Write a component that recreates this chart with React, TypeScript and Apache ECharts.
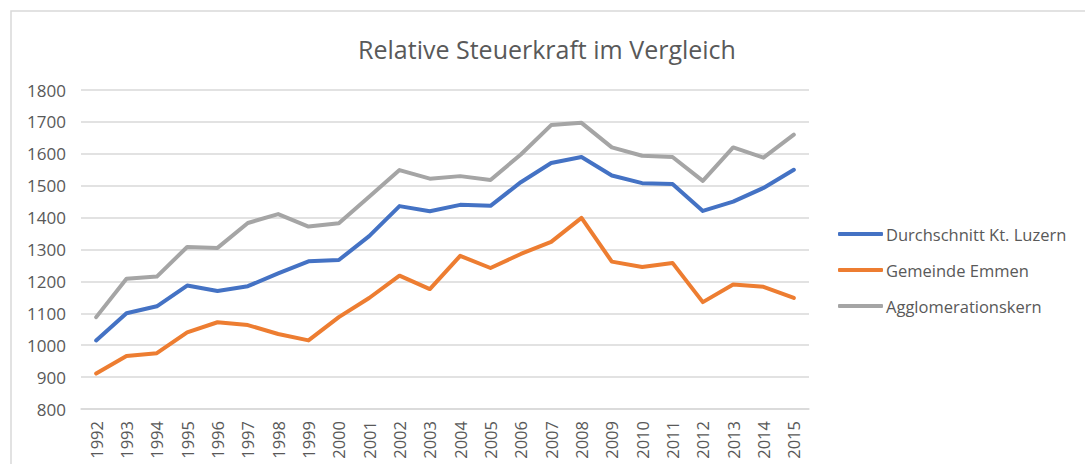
import React, { useEffect, useRef } from "react";
import * as echarts from "echarts";

const years = [
  "1992","1993","1994","1995","1996","1997","1998","1999","2000","2001","2002","2003",
  "2004","2005","2006","2007","2008","2009","2010","2011","2012","2013","2014","2015",
];
const durchschnitt = [1015,1100,1122,1187,1170,1185,1225,1263,1267,1342,1436,1420,1440,1437,1511,1571,1590,1532,1508,1505,1421,1450,1493,1550];
const emmen = [911,966,975,1040,1072,1063,1035,1015,1088,1148,1218,1176,1280,1242,1286,1324,1399,1262,1245,1258,1135,1190,1183,1148];
const agglo = [1088,1208,1215,1308,1305,1383,1411,1372,1382,1465,1549,1522,1530,1518,1598,1690,1697,1620,1594,1590,1515,1620,1588,1660];

const seriesNames = ["Durchschnitt Kt. Luzern", "Gemeinde Emmen", "Agglomerationskern"];
const colors = ["#4472C4", "#ED7D31", "#A5A5A5"];

export default function App() {
  const ref = useRef<HTMLDivElement>(null);
  useEffect(() => {
    if (!ref.current) return;
    const chart = echarts.init(ref.current, null, { renderer: "svg" });
    const font = "'Open Sans', sans-serif";
    const dataSets = [durchschnitt, emmen, agglo];
    chart.setOption({
      animation: false,
      backgroundColor: "#ffffff",
      title: {
        text: "Relative Steuerkraft im Vergleich",
        left: 542,
        textAlign: "center",
        top: 31,
        textStyle: { fontFamily: font, fontSize: 25, fontWeight: "normal", color: "#595959" },
      },
      graphic: [
        {
          type: "rect",
          shape: { x: 11, y: 11, width: 1100, height: 500 },
          style: { fill: "none", stroke: "#d9d9d9", lineWidth: 1.5 },
          silent: true,
        },
      ],
      legend: {
        orient: "vertical",
        left: 838,
        top: 224,
        padding: 0,
        itemWidth: 45,
        itemHeight: 4,
        itemGap: 16,
        icon: "roundRect",
        data: seriesNames,
        textStyle: { fontFamily: font, fontSize: 16.5, color: "#595959", lineHeight: 20, padding: [0, 0, 0, -2] },
      },
      grid: { left: 81, right: 276, top: 90, bottom: 55, containLabel: false },
      xAxis: {
        type: "category",
        data: years,
        boundaryGap: true,
        axisLine: { show: true, lineStyle: { color: "#d9d9d9", width: 1.5 } },
        axisTick: { show: false },
        axisLabel: { rotate: 90, margin: 12, fontFamily: font, fontSize: 16.5, color: "#595959", interval: 0 },
      },
      yAxis: {
        type: "value",
        min: 800,
        max: 1800,
        interval: 100,
        axisLine: { show: false },
        axisTick: { show: false },
        splitLine: { lineStyle: { color: "#d9d9d9", width: 1.5 } },
        axisLabel: {
          margin: 15,
          fontFamily: font,
          fontSize: 17,
          color: "#595959",
          formatter: (v: number) => String(v),
        },
      },
      series: seriesNames.map((name, i) => ({
        name,
        type: "line",
        data: dataSets[i],
        symbol: "none",
        lineStyle: { color: colors[i], width: 4, cap: "round", join: "round" },
        itemStyle: { color: colors[i] },
      })),
    });
    return () => chart.dispose();
  }, []);
  return (
    <div
      ref={ref}
      style={{ position: "fixed", left: 0, top: 0, width: 1085, height: 464 }}
    />
  );
}
